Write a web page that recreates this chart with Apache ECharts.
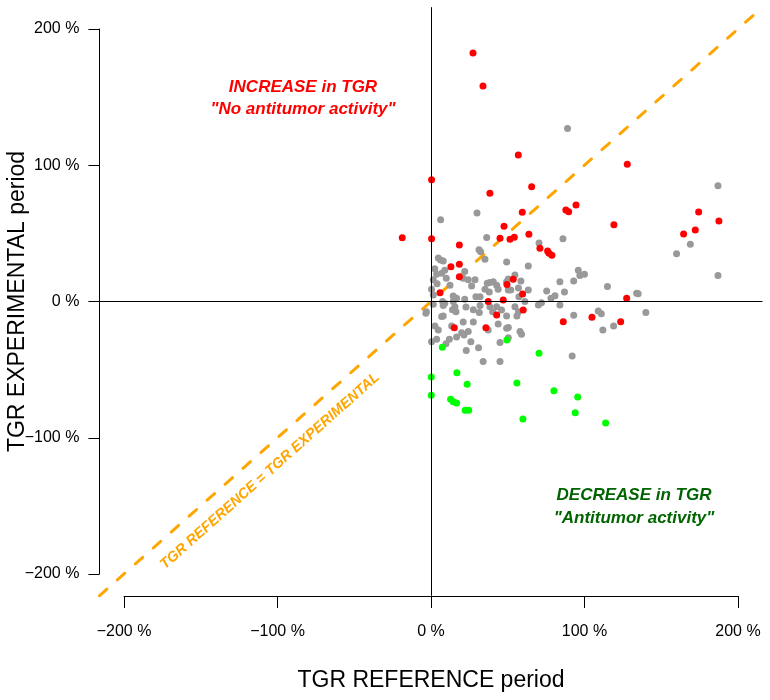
<!DOCTYPE html>
<html><head><meta charset="utf-8">
<script src="https://cdn.jsdelivr.net/npm/echarts@6/dist/echarts.min.js"></script>
<style>html,body{margin:0;padding:0;background:#fff}#c{width:770px;height:700px}</style>
</head><body><div id="c"></div>
<script>
// ---- data (TGR %, reference period x, experimental period y) ----
const grayPoints = [
[89,127],[187,85],[86,46],[160,35],[169,42],[187,19],[96,23],[97,19],[100,20],[93,15],[87,7],[84,14.5],
[115,11],[134,6],[135,5.7],[84,-2.6],[93,-10],[109,-7],[111,-9],[140,-8],[112,-21],[119,-18],[92,-40],
[34,-44],[45,-44],[23,-36],[31,-34],[-3,-7.5],[7,-11],[8,-10.6],[2.6,-18],[4.8,-21],[0.4,-29.5],[3.7,-27.7],
[9.8,-31],[12,-27.7],[13.5,-18],[14,-6],[15.6,-3.8],[16.3,-7.5],[21,-15],[16.7,-26],[20,-23],[21.5,-24.6],
[24.3,-22],[26,-29.5],[27.6,-6],[31.5,-8],[27.6,-15],[37.3,-21],[38.4,-3.8],[40.2,-7.5],[43.8,-16.5],[45,-30],
[49.3,-19.7],[50.4,-26.6],[42.8,-3.8],[46,-6.2],[7.6,0],[9,-1.3],[14.5,0],[54.7,-3.8],[57,-7.5],[56,-10.6],
[49.3,-10.6],[50.4,-19],[58,-22],[59,-24],[70,-2.6],[72,-0.9],[30,65],[6.3,60],[36.3,47],[31.3,38],[32.4,36.6],
[35.2,31],[49.3,29],[4.8,32],[6.3,30.5],[8,29.7],[3.7,20],[7,20.7],[1.5,16],[12.4,12],[21,17],[22,22],[24.3,16],
[26.5,11.4],[28.7,16],[38.4,14],[42.8,12],[35.2,9],[38,7],[43.8,9],[29.3,3.5],[32,3.5],[22,1.6],[14.5,4],
[16.7,2.3],[0.4,9],[1.5,4.8],[49.3,14.5],[50.4,8.4],[1.5,-2],[8,-3],[22.8,-4],[32,-3],[70.4,43],[63.4,26],
[50.4,16.5],[54.7,19.4],[58.6,15],[57,10],[52,8.4],[63.4,8.4],[57.3,3.5],[61.2,0],[75.4,7.7],[78.2,2.3],
[80.8,4.3],[-3.3,-8.7],[2.5,24],[9,23],[4,13],[10,17],[36.7,13.4],[40.6,14.5]
];
const redPoints = [
[27.4,182.4],[33.9,158.2],[56.9,107.5],[0.4,89.4],[38.4,79.4],[65.6,84.3],[59.5,65.5],[87.9,67.2],[89.7,65.9],
[94.5,70.8],[47.6,55.2],[-18.7,46.8],[0.4,46.1],[45,46.4],[51.5,45.6],[54.3,47.1],[63.8,49.3],[18.5,41.5],
[71,39],[76,37],[76.9,35.4],[78.8,33.9],[13,25.5],[18.5,27.3],[18.5,18.2],[5.9,6.5],[59.7,5.5],[37.3,0],
[47.1,1.1],[60.1,-6.2],[42.8,-9.9],[53.6,16.3],[49.5,12.5],[127.9,100.7],[119.2,56.4],[174.4,65.7],
[187.6,59.1],[164.6,49.5],[172.2,52.5],[127.5,2.3],[104.9,-11.6],[123.6,-14.8],[86.2,-14.8],[15.2,-19.2],[35.8,-19.2]
];
const greenPoints = [
[7.4,-33.6],[70.4,-38],[0.2,-55.4],[16.9,-52.3],[23.6,-60.8],[56,-59.8],[80.1,-65.5],[95.6,-70.1],[94,-81.6],
[113.8,-89.2],[0.2,-68.8],[12.8,-71.8],[14.5,-73.5],[16.7,-74.5],[22.3,-79.9],[24.6,-79.9],[59.9,-86.2],[49.5,-28.3]
];
const plotRange = [-216, 216];          // plotting region (data units)
const tickValues = [-200, -100, 0, 100, 200];
const tickLabels = ['\u2212200 %', '\u2212100 %', '0 %', '100 %', '200 %'];
const identityLine = [[-216, -216], [216, 216]];

const FONT = "'Liberation Sans', Arial, Helvetica, sans-serif";
const chart = echarts.init(document.getElementById('c'), null, {renderer: 'canvas'});

const fmt = v => tickLabels[tickValues.indexOf(v)] || '';

const option = {
  animation: false,
  backgroundColor: '#fff',
  grid: [
    {left: 99.4, top: 7.2, width: 663.1, height: 588.6, containLabel: false, outerBoundsMode: 'none'},
    {left: 124, top: 29, width: 614, height: 545, containLabel: false, outerBoundsMode: 'none'}
  ],
  xAxis: [
    {gridIndex: 0, type: 'value', min: plotRange[0], max: plotRange[1], show: false},
    {gridIndex: 1, type: 'value', min: tickValues[0], max: tickValues[4], interval: 100, offset: 22,
     position: 'bottom', nameMoveOverlap: false,
     axisLine: {show: true, onZero: false, lineStyle: {color: '#000', width: 1}},
     axisTick: {show: true, length: 12, lineStyle: {color: '#000', width: 1}},
     axisLabel: {formatter: fmt, fontSize: 16, color: '#000', fontFamily: FONT, margin: 28},
     splitLine: {show: false},
     name: 'TGR REFERENCE period', nameLocation: 'middle', nameGap: 73,
     nameTextStyle: {fontSize: 23, color: '#000', fontFamily: FONT}}
  ],
  yAxis: [
    {gridIndex: 0, type: 'value', min: plotRange[0], max: plotRange[1], show: false},
    {gridIndex: 1, type: 'value', min: tickValues[0], max: tickValues[4], interval: 100, offset: 24.6,
     position: 'left', nameMoveOverlap: false,
     axisLine: {show: true, onZero: false, lineStyle: {color: '#000', width: 1}},
     axisTick: {show: true, length: 11, lineStyle: {color: '#000', width: 1}},
     axisLabel: {formatter: fmt, fontSize: 16, color: '#000', fontFamily: FONT, margin: 20},
     splitLine: {show: false},
     name: 'TGR EXPERIMENTAL period', nameLocation: 'middle', nameGap: 70, nameRotate: 90,
     nameTextStyle: {fontSize: 23, color: '#000', fontFamily: FONT}}
  ],
  series: [
    {type: 'line', xAxisIndex: 0, yAxisIndex: 0, data: [], silent: true,
     markLine: {symbol: 'none', silent: true, label: {show: false},
       lineStyle: {color: '#000', width: 1, type: 'solid'},
       data: [{xAxis: 0}, {yAxis: 0}]}},
    {type: 'line', xAxisIndex: 0, yAxisIndex: 0, data: identityLine, symbol: 'none', silent: true, z: 1,
     lineStyle: {color: '#FFA500', width: 3, type: [10, 14], cap: 'round'}},
    {type: 'scatter', xAxisIndex: 0, yAxisIndex: 0, data: grayPoints, symbolSize: 7,
     itemStyle: {color: '#999999', opacity: 1}, z: 3},
    {type: 'scatter', xAxisIndex: 0, yAxisIndex: 0, data: redPoints, symbolSize: 7,
     itemStyle: {color: '#FF0000', opacity: 1}, z: 4},
    {type: 'scatter', xAxisIndex: 0, yAxisIndex: 0, data: greenPoints, symbolSize: 7,
     itemStyle: {color: '#00FF00', opacity: 1}, z: 4}
  ],
  graphic: [
    {type: 'text', x: 303, y: 87, z: 10, style: {text: 'INCREASE in TGR', fill: '#FF0000',
      font: `italic bold 17px ${FONT}`, textAlign: 'center', textVerticalAlign: 'middle'}},
    {type: 'text', x: 303, y: 109, z: 10, style: {text: '"No antitumor activity"', fill: '#FF0000',
      font: `italic bold 17px ${FONT}`, textAlign: 'center', textVerticalAlign: 'middle'}},
    {type: 'text', x: 634, y: 495, z: 10, style: {text: 'DECREASE in TGR', fill: '#006400',
      font: `italic bold 17px ${FONT}`, textAlign: 'center', textVerticalAlign: 'middle'}},
    {type: 'text', x: 634, y: 518, z: 10, style: {text: '"Antitumor activity"', fill: '#006400',
      font: `italic bold 17px ${FONT}`, textAlign: 'center', textVerticalAlign: 'middle'}},
    {type: 'text', x: 270, y: 471, rotation: 41.6 * Math.PI / 180, z: 10,
     style: {text: 'TGR REFERENCE = TGR EXPERIMENTAL', fill: '#FFA500',
      font: `italic bold 14.5px ${FONT}`, textAlign: 'center', textVerticalAlign: 'middle'}}
  ]
};
chart.setOption(option);
</script></body></html>
